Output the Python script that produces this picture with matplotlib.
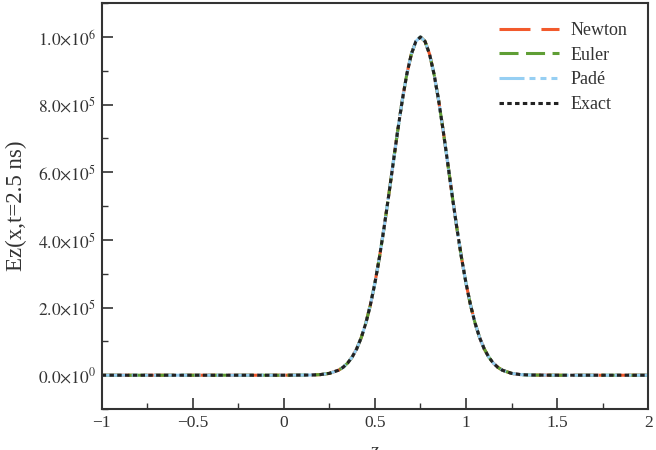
import matplotlib
matplotlib.use("Agg")
import matplotlib.pyplot as plt
from matplotlib.ticker import MultipleLocator, FuncFormatter

# Gaussian pulse (x in m, Ez in V/m)
x_vals = [-1.0, -0.5, 0.0, 0.15, 0.2, 0.25, 0.3, 0.325, 0.35, 0.375, 0.4,
          0.425, 0.45, 0.475, 0.5, 0.525, 0.55, 0.575, 0.6, 0.625, 0.65,
          0.675, 0.7, 0.725, 0.75, 0.775, 0.8, 0.825, 0.85, 0.875, 0.9,
          0.925, 0.95, 0.975, 1.0, 1.025, 1.05, 1.075, 1.1, 1.125, 1.15,
          1.175, 1.2, 1.25, 1.3, 1.35, 1.5, 2.0]
ez_vals = [0, 0, 0, 560, 1800, 5500, 14800, 23300, 35800, 53600, 78100,
           111000, 153700, 207300, 272400, 348700, 435000, 528700, 626100, 722400, 812100,
           889500, 949300, 987100, 1000000, 987100, 949300, 889500, 812100, 722400, 626100,
           528700, 435000, 348700, 272400, 207300, 153700, 111000, 78100, 53600, 35800,
           23300, 14800, 5500, 1800, 560, 0, 0]

series = ["Newton", "Euler", "Padé", "Exact"]
colors = ["#f25a2c", "#5f9e35", "#96cff3", "#222222"]
dashes = [(0, (22.3, 7.9)), (0, (13.7, 5.4)),
          (0, (18, 3.6, 4.3, 3.6, 4.3, 3.6, 4.3, 3.6)), (0, (3.2, 2.4))]

plt.rcParams["font.family"] = ["Liberation Serif", "DejaVu Serif"]
plt.rcParams["mathtext.fontset"] = "stix"
plt.rcParams["lines.scale_dashes"] = False

fig = plt.figure(figsize=(6.56, 4.5), dpi=100)
ax = fig.add_axes([0.155, 0.091, 0.833, 0.902])

for name, c, ls in zip(series, colors, dashes):
    ax.plot(x_vals, ez_vals, color=c, linestyle=ls, linewidth=2.2, label=name)

ax.set_xlim(-1, 2)
ax.set_ylim(-1e5, 1.1e6)
ax.xaxis.set_major_locator(MultipleLocator(0.5))
ax.xaxis.set_minor_locator(MultipleLocator(0.25))
ax.yaxis.set_major_locator(MultipleLocator(2e5))
ax.yaxis.set_minor_locator(MultipleLocator(1e5))


def xfmt(v, pos):
    s = "%g" % v
    return s.replace("-", "\u2212")


def yfmt(v, pos):
    if v == 0:
        return r"$0.0{\times}10^{0}$"
    e = 0
    m = v
    while abs(m) >= 10:
        m /= 10
        e += 1
    return r"$%.1f{\times}10^{%d}$" % (m, e)


ax.xaxis.set_major_formatter(FuncFormatter(xfmt))
ax.yaxis.set_major_formatter(FuncFormatter(yfmt))

ax.tick_params(which="both", direction="in", top=False, right=False,
               labelsize=12.5, colors="#333333")
ax.tick_params(which="major", length=8, width=1.2, pad=4)
ax.tick_params(which="minor", length=4.5, width=1.0)
for sp in ax.spines.values():
    sp.set_linewidth(1.5)
    sp.set_color("#333333")

ax.set_ylabel("Ez(x,t=2.5 ns)", fontsize=16.5, color="#333333", labelpad=8)
ax.set_xlabel("z", fontsize=14, color="#333333", labelpad=9)

leg = ax.legend(loc="upper right", bbox_to_anchor=(0.962, 0.953), frameon=False,
                fontsize=13, handlelength=3.3, labelspacing=0.42,
                borderaxespad=0, borderpad=0, handletextpad=0.66)
for t in leg.get_texts():
    t.set_color("#333333")

fig.savefig("out.png", dpi=100)
